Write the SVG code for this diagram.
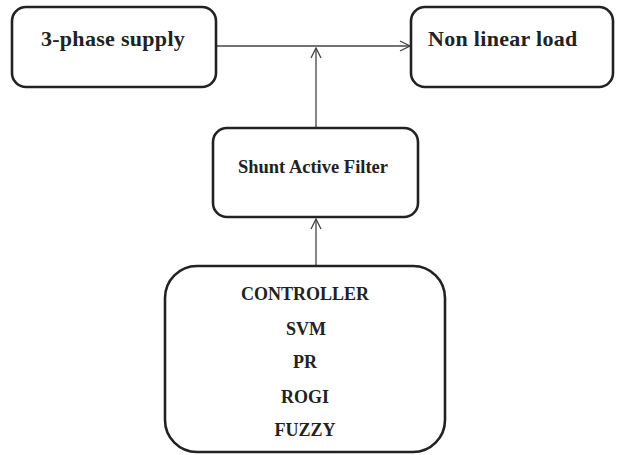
<svg xmlns="http://www.w3.org/2000/svg" width="619" height="455" viewBox="0 0 619 455">
<style>
.box{fill:#fff;stroke:#222;stroke-width:2.6}
.t{font-family:'Liberation Serif','DejaVu Serif',serif;font-weight:bold;fill:#222}
.c{fill:none;stroke:#444;stroke-width:1.3}
</style>
<defs>
<marker id="arr" viewBox="0 0 12 12" refX="11" refY="6" markerWidth="12" markerHeight="12" markerUnits="userSpaceOnUse" orient="auto">
<path d="M1,1 L11,6 L1,11" fill="none" stroke="#444" stroke-width="1.3"/>
</marker>
</defs>
<rect width="619" height="455" fill="#fff"/>
<g id="connectors">
<line class="c" x1="216" y1="46" x2="410" y2="46" marker-end="url(#arr)"/>
<line class="c" x1="316" y1="128" x2="316" y2="48" marker-end="url(#arr)"/>
<line class="c" x1="316" y1="266" x2="316" y2="219" marker-end="url(#arr)"/>
</g>
<g id="supply">
<rect class="box" x="12" y="7" width="204" height="80" rx="14"/>
<text class="t" font-family="Liberation Serif, serif" x="113" y="46" font-size="22" letter-spacing="0.3" text-anchor="middle">3-phase supply</text>
</g>
<g id="load">
<rect class="box" x="411" y="7" width="202" height="80" rx="14"/>
<text class="t" font-family="Liberation Serif, serif" x="428" y="46" font-size="22" letter-spacing="0.3">Non linear load</text>
</g>
<g id="filter">
<rect class="box" x="213" y="128" width="205" height="89" rx="14"/>
<text class="t" font-family="Liberation Serif, serif" x="313" y="173" font-size="18.5" text-anchor="middle">Shunt Active Filter</text>
</g>
<g id="controller">
<rect class="box" x="165" y="266" width="280" height="186" rx="32"/>
<text class="t" font-family="Liberation Serif, serif" x="305" y="300" font-size="18" text-anchor="middle">CONTROLLER</text>
<text class="t" font-family="Liberation Serif, serif" x="306" y="335" font-size="18" text-anchor="middle">SVM</text>
<text class="t" font-family="Liberation Serif, serif" x="305" y="368" font-size="18" text-anchor="middle">PR</text>
<text class="t" font-family="Liberation Serif, serif" x="305" y="403" font-size="18" text-anchor="middle">ROGI</text>
<text class="t" font-family="Liberation Serif, serif" x="305" y="436" font-size="18" text-anchor="middle">FUZZY</text>
</g>
</svg>
